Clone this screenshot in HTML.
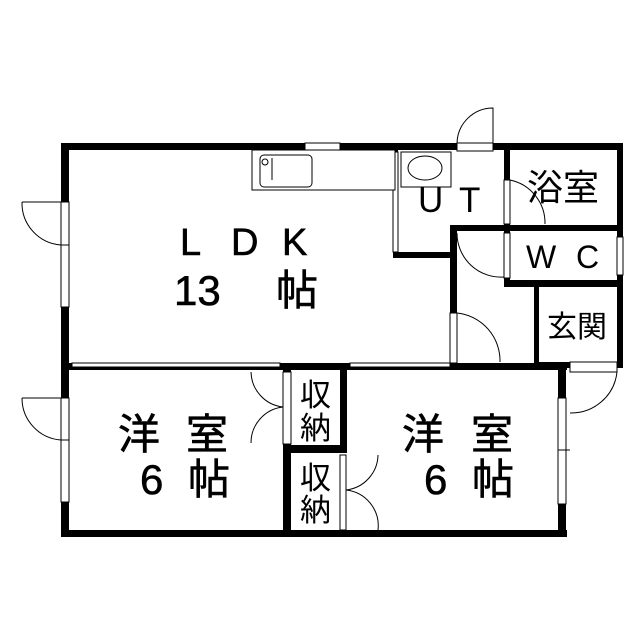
<!DOCTYPE html>
<html><head><meta charset="utf-8"><style>
html,body{margin:0;padding:0;background:#fff;width:639px;height:640px;overflow:hidden}
svg{display:block}
text{font-family:"Liberation Sans","Noto Sans CJK JP",sans-serif;fill:#000}
</style></head><body>
<svg width="639" height="640" viewBox="0 0 639 640" xmlns="http://www.w3.org/2000/svg">
<g fill="#000">
<rect x="61" y="143" width="562" height="7"/>
<rect x="61" y="143" width="8" height="394"/>
<rect x="617" y="143" width="6" height="225"/>
<rect x="61" y="530" width="506" height="7"/>
<rect x="61" y="363" width="506" height="7"/>
<rect x="534" y="362" width="36" height="6"/>
<rect x="558" y="362" width="8" height="175"/>
<rect x="393" y="150" width="5" height="108"/>
<rect x="393" y="252" width="64" height="6"/>
<rect x="450" y="225" width="7" height="143"/>
<rect x="450" y="225" width="173" height="6"/>
<rect x="504" y="143" width="6" height="144"/>
<rect x="504" y="280" width="119" height="7"/>
<rect x="534" y="287" width="5" height="80"/>
<rect x="283" y="363" width="8" height="174"/>
<rect x="340" y="363" width="7" height="90"/>
<rect x="283" y="445" width="64" height="8"/>
</g>
<g fill="#fff" stroke="#000" stroke-width="1">
<rect x="305" y="143" width="35" height="7"/>
<rect x="457" y="143" width="36" height="8"/>
<rect x="61" y="202" width="8" height="43"/>
<rect x="61" y="245" width="8" height="62"/>
<rect x="61" y="398" width="8" height="42"/>
<rect x="61" y="440" width="8" height="62"/>
<rect x="393" y="152" width="5" height="100"/>
<rect x="504" y="180" width="6" height="44"/>
<rect x="504" y="233" width="6" height="45"/>
<rect x="617" y="237" width="6" height="38"/>
<rect x="450" y="313" width="7" height="50"/>
<rect x="72" y="363" width="208" height="4"/>
<rect x="350" y="363" width="100" height="4"/>
<rect x="283" y="372" width="8" height="72"/>
<rect x="340" y="455" width="6" height="75"/>
<rect x="570" y="362" width="47" height="10"/>
<rect x="558" y="398" width="8" height="106"/>
<rect x="252" y="150" width="143" height="40"/>
<rect x="260" y="155" width="52" height="32" rx="4"/>
<ellipse cx="265" cy="162" rx="3" ry="3"/>
<rect x="401" y="152" width="50" height="35"/>
<ellipse cx="425" cy="168" rx="17" ry="12"/>
</g>
<g fill="none" stroke="#000" stroke-width="1">
<path d="M493 143 L493 108 A36 36 0 0 0 457 143"/>
<path d="M22 202 L61 202 M22 202 A42 42 0 0 0 61 245"/>
<path d="M22 398 L61 398 M22 398 A42 42 0 0 0 61 440"/>
<path d="M510 180 A44 44 0 0 1 545 224"/>
<path d="M457 233 A44 44 0 0 0 504 277"/>
<path d="M457 313 A48 48 0 0 1 500 362"/>
<path d="M251 372 A36 36 0 0 0 283 407 M251 443 A36 36 0 0 1 283 407"/>
<path d="M378 455 A36 36 0 0 1 346 490 M378 530 A36 36 0 0 0 346 490"/>
<path d="M617 372 A46 46 0 0 1 570 413"/>
<path d="M272 158 L272 180"/>
<path d="M558 450 L570 450"/>
</g>
<g font-size="38" stroke="#000" stroke-width="0.6">
<text x="180" y="255">L</text><text x="231" y="255">D</text><text x="282" y="255">K</text>
<text x="174" y="305" font-size="42">13</text><text x="276" y="305" font-size="42">帖</text>
<text x="118" y="449" font-size="42">洋</text><text x="186" y="449" font-size="42">室</text>
<text x="140" y="494" font-size="42">6</text><text x="188" y="494" font-size="42">帖</text>
<text x="402" y="449" font-size="42">洋</text><text x="471" y="449" font-size="42">室</text>
<text x="424" y="494" font-size="42">6</text><text x="472" y="494" font-size="42">帖</text>
</g>
<g font-size="35">
<text x="418" y="212">U</text><text x="459" y="212">T</text>
</g>
<g font-size="32">
<text x="526" y="268">W</text><text x="576" y="268">C</text>
</g>
<text x="527" y="200" font-size="36">浴室</text>
<text x="547" y="337" font-size="30">玄関</text>
<g font-size="31">
<text x="300" y="406">収</text><text x="300" y="439">納</text>
<text x="300" y="489">収</text><text x="300" y="521">納</text>
</g>
</svg>
</body></html>
